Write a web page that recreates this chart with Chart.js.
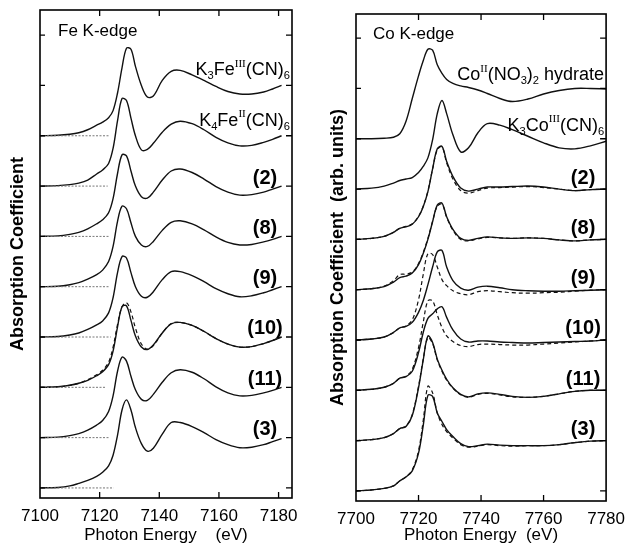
<!DOCTYPE html>
<html>
<head>
<meta charset="utf-8">
<script src="https://cdn.jsdelivr.net/npm/chart.js@4.4.1/dist/chart.umd.min.js"></script>
<style>
  body { margin: 0; background: #fff; }
  #wrap { position: relative; width: 633px; height: 546px; }
  canvas { position: absolute; top: 0; }
  #feChart { left: 0; }
  #coChart { left: 310px; }
</style>
</head>
<body>
<div id="wrap">
  <canvas id="feChart" width="310" height="546"></canvas>
  <canvas id="coChart" width="323" height="546"></canvas>
</div>
<script>
// ---- Fe K-edge data (normalised, each curve raised by its level) ----
const energyFe = [7100, 7106, 7110, 7113, 7116, 7119, 7121, 7123, 7124.5, 7126, 7127.5, 7129, 7130.5, 7132,
  7134, 7136, 7138, 7141, 7144, 7147, 7151, 7155, 7159, 7163, 7167, 7171, 7175, 7178, 7181];
const feK3 = [0, 0.01, 0.03, 0.06, 0.12, 0.21, 0.27, 0.36, 0.5, 0.85, 1.35, 1.74, 1.72, 1.38, 1.0, 0.77, 0.79,
  1.1, 1.28, 1.3, 1.21, 1.1, 0.98, 0.88, 0.83, 0.83, 0.87, 0.93, 1.0];
const feK4 = [0, 0.01, 0.03, 0.06, 0.12, 0.24, 0.32, 0.45, 0.75, 1.3, 1.74, 1.7, 1.35, 1.0, 0.72, 0.73, 0.85,
  1.07, 1.23, 1.29, 1.24, 1.12, 0.97, 0.86, 0.8, 0.81, 0.87, 0.93, 1.0];
const fe2 = [0, 0.01, 0.04, 0.08, 0.15, 0.25, 0.33, 0.47, 0.75, 1.25, 1.62, 1.6, 1.3, 1.0, 0.79, 0.76, 0.88,
  1.12, 1.3, 1.34, 1.27, 1.14, 0.99, 0.88, 0.82, 0.83, 0.88, 0.94, 1.0];
const fe8 = [0, 0.01, 0.04, 0.08, 0.15, 0.24, 0.33, 0.5, 0.8, 1.3, 1.6, 1.55, 1.27, 1.0, 0.83, 0.8, 0.9,
  1.12, 1.28, 1.31, 1.25, 1.13, 0.99, 0.88, 0.83, 0.84, 0.89, 0.94, 1.0];
const fe9 = [0, 0.01, 0.04, 0.08, 0.15, 0.24, 0.32, 0.48, 0.78, 1.28, 1.6, 1.57, 1.28, 1.0, 0.81, 0.79, 0.9,
  1.14, 1.3, 1.3, 1.22, 1.1, 0.96, 0.86, 0.8, 0.82, 0.88, 0.94, 1.0];
const fe10 = [0, 0.01, 0.04, 0.08, 0.14, 0.23, 0.31, 0.45, 0.72, 1.2, 1.6, 1.62, 1.33, 1.02, 0.8, 0.75, 0.84,
  1.08, 1.26, 1.29, 1.23, 1.11, 0.97, 0.86, 0.8, 0.81, 0.87, 0.93, 1.0];
const fe10fit = [0, 0.01, 0.04, 0.08, 0.15, 0.25, 0.34, 0.5, 0.8, 1.25, 1.6, 1.68, 1.5, 1.18, 0.86, 0.76, 0.83,
  1.08, 1.27, 1.29, 1.23, 1.11, 0.97, 0.86, 0.8, 0.81, 0.87, 0.93, 1.0];
const fe11 = [0, 0.01, 0.04, 0.08, 0.15, 0.25, 0.34, 0.52, 0.83, 1.32, 1.6, 1.52, 1.22, 0.95, 0.76, 0.74, 0.86,
  1.1, 1.29, 1.35, 1.3, 1.17, 1.01, 0.89, 0.83, 0.84, 0.89, 0.94, 1.0];
const fe3 = [0, 0.01, 0.04, 0.09, 0.15, 0.23, 0.31, 0.44, 0.65, 1.05, 1.55, 1.75, 1.55, 1.2, 0.88, 0.73, 0.79,
  1.07, 1.3, 1.3, 1.22, 1.1, 0.96, 0.86, 0.8, 0.81, 0.86, 0.92, 0.98];
const feCurves = [feK3, feK4, fe2, fe8, fe9, fe10, fe11, fe3];
const feLevels = [7, 6, 5, 4, 3, 2, 1, 0];
const feBaseEnd = [7123, 7122.7, 7123, 7123, 7123.7, 7122, 7123, 7124.7];

// ---- Co K-edge data ----
const energyCo = [7700, 7705, 7709, 7712, 7714, 7716, 7718, 7720, 7721.5, 7723, 7724.5, 7726, 7727.5, 7729,
  7731, 7733.5, 7736, 7739, 7742, 7746, 7750, 7755, 7760, 7765, 7770, 7775, 7780];
const coNitrate = [0, 0, 0.01, 0.03, 0.1, 0.35, 0.8, 1.25, 1.55, 1.78, 1.76, 1.47, 1.3, 1.18, 1.1, 1.05, 1.02,
  0.97, 0.9, 0.8, 0.74, 0.79, 0.89, 0.96, 1.0, 1.0, 0.99];
const coK3 = [0, 0.02, 0.06, 0.12, 0.17, 0.2, 0.23, 0.33, 0.45, 0.62, 0.98, 1.5, 1.76, 1.5, 1.08, 0.74, 0.82,
  1.12, 1.3, 1.27, 1.18, 1.05, 0.92, 0.82, 0.8, 0.86, 0.95];
const co2 = [0, 0.02, 0.06, 0.14, 0.22, 0.25, 0.3, 0.45, 0.65, 0.95, 1.4, 1.8, 1.85, 1.55, 1.25, 1.02, 0.96,
  1.0, 1.04, 1.04, 1.05, 1.06, 1.04, 1.0, 0.97, 0.99, 1.0];
const co2fit = [0, 0.02, 0.06, 0.14, 0.22, 0.26, 0.31, 0.46, 0.66, 0.96, 1.4, 1.78, 1.84, 1.52, 1.2, 0.97, 0.92,
  0.97, 1.02, 1.03, 1.04, 1.05, 1.03, 1.0, 0.97, 0.99, 1.0];
const co8 = [0, 0.02, 0.06, 0.15, 0.24, 0.27, 0.33, 0.5, 0.72, 1.0, 1.35, 1.68, 1.72, 1.45, 1.2, 1.02, 0.98,
  1.02, 1.05, 1.03, 1.02, 1.03, 1.02, 0.99, 0.97, 0.99, 1.0];
const co8fit = [0, 0.02, 0.07, 0.18, 0.3, 0.31, 0.35, 0.52, 0.74, 1.02, 1.36, 1.66, 1.7, 1.44, 1.18, 1.0, 0.97,
  1.01, 1.04, 1.03, 1.02, 1.03, 1.02, 0.99, 0.97, 0.99, 1.0];
const co9 = [0, 0.02, 0.06, 0.15, 0.24, 0.27, 0.35, 0.55, 0.78, 1.1, 1.45, 1.75, 1.78, 1.45, 1.18, 1.03, 0.99,
  1.05, 1.07, 1.04, 1.0, 0.98, 0.97, 0.97, 0.98, 0.99, 1.0];
const co9fit = [0, 0.02, 0.06, 0.15, 0.24, 0.28, 0.4, 0.8, 1.3, 1.72, 1.7, 1.45, 1.2, 1.08, 0.98, 0.92, 0.9,
  0.96, 0.98, 0.96, 0.94, 0.93, 0.94, 0.95, 0.97, 0.99, 1.0];
const co10 = [0, 0.02, 0.06, 0.14, 0.24, 0.27, 0.38, 0.75, 1.15, 1.43, 1.52, 1.62, 1.66, 1.45, 1.2, 1.02, 0.96,
  0.98, 0.98, 0.96, 0.95, 0.94, 0.95, 0.96, 0.97, 0.98, 1.0];
const co10fit = [0, 0.02, 0.06, 0.14, 0.24, 0.28, 0.42, 0.85, 1.35, 1.78, 1.78, 1.5, 1.25, 1.08, 0.97, 0.89, 0.87,
  0.91, 0.92, 0.91, 0.9, 0.9, 0.92, 0.94, 0.96, 0.98, 1.0];
const co11 = [0, 0.02, 0.06, 0.14, 0.24, 0.28, 0.5, 1.05, 1.6, 2.08, 1.95, 1.62, 1.4, 1.22, 1.05, 0.92, 0.87,
  0.93, 0.95, 0.92, 0.88, 0.86, 0.88, 0.93, 0.98, 1.0, 1.0];
const co11fit = [0, 0.02, 0.06, 0.14, 0.24, 0.29, 0.52, 1.08, 1.62, 2.05, 1.93, 1.6, 1.38, 1.2, 1.04, 0.91, 0.86,
  0.92, 0.94, 0.91, 0.87, 0.86, 0.88, 0.93, 0.98, 1.0, 1.0];
const co3 = [0, 0.02, 0.05, 0.1, 0.2, 0.28, 0.4, 0.75, 1.3, 1.9, 1.88, 1.55, 1.38, 1.22, 1.08, 0.94, 0.88,
  0.9, 0.93, 0.91, 0.9, 0.9, 0.9, 0.92, 0.96, 0.99, 1.0];
const co3fit = [0, 0.02, 0.05, 0.1, 0.2, 0.28, 0.42, 0.8, 1.4, 2.08, 1.95, 1.55, 1.32, 1.18, 1.05, 0.92, 0.87,
  0.89, 0.92, 0.9, 0.89, 0.9, 0.9, 0.92, 0.96, 0.99, 1.0];
const coCurves = [coNitrate, coK3, co2, co8, co9, co10, co11, co3];
const coFits = [null, null, co2fit, co8fit, co9fit, co10fit, co11fit, co3fit];
const coLevels = [7, 6, 5, 4, 3, 2, 1, 0];

// tick values
const feXTicks = [7120, 7140, 7160, 7180];
const coXTicks = [7720, 7740, 7760];
const yTicks = [0, 1, 2, 3, 4, 5, 6, 7, 8, 9];

// curve labels: [text, "sub"/"sup"] pieces
const feLabels = [
  [["K"], ["3", "sub"], ["Fe"], ["III", "sup"], ["(CN)"], ["6", "sub"]],
  [["K"], ["4", "sub"], ["Fe"], ["II", "sup"], ["(CN)"], ["6", "sub"]],
  [["(2)"]], [["(8)"]], [["(9)"]], [["(10)"]], [["(11)"]], [["(3)"]],
];
const coLabels = [
  [["Co"], ["II", "sup"], ["(NO"], ["3", "sub"], [")"], ["2", "sub"], [" hydrate"]],
  [["K"], ["3", "sub"], ["Co"], ["III", "sup"], ["(CN)"], ["6", "sub"]],
  [["(2)"]], [["(8)"]], [["(9)"]], [["(10)"]], [["(11)"]], [["(3)"]],
];

const FONT = "'Liberation Sans', Arial, Helvetica, sans-serif";
Chart.defaults.font.family = FONT;
Chart.defaults.color = "#000";

function curve(energy, values, level, dashed) {
  return {
    data: energy.map((e, i) => ({ x: e, y: values[i] + level })),
    borderColor: "#111",
    borderWidth: dashed ? 1.2 : 1.4,
    borderDash: dashed ? [4, 3] : [],
    pointRadius: 0,
    tension: 0.35,
    fill: false,
  };
}

function baseMark(x0, x1, level) {
  return {
    data: [{ x: x0, y: level }, { x: x1, y: level }],
    borderColor: "#777",
    borderWidth: 1,
    borderDash: [2, 1.5],
    pointRadius: 0,
    tension: 0,
  };
}

function drawRich(ctx, pieces, x, y, align, size, bold) {
  const fontOf = (p) => {
    if (p[1] === "sup") return (size * 0.62) + "px 'Liberation Serif', serif";
    if (p[1] === "sub") return (size * 0.62) + "px " + FONT;
    return (bold ? "bold " : "") + size + "px " + FONT;
  };
  const widths = pieces.map((p) => { ctx.font = fontOf(p); return ctx.measureText(p[0]).width; });
  const total = widths.reduce((a, b) => a + b, 0);
  let cx = align === "right" ? x - total : align === "center" ? x - total / 2 : x;
  pieces.forEach((p, k) => {
    ctx.font = fontOf(p);
    const dy = p[1] === "sub" ? size * 0.32 : p[1] === "sup" ? -size * 0.36 : 0;
    ctx.fillText(p[0], cx, y + dy);
    cx += widths[k];
  });
}

const panelText = {
  id: "panelText",
  afterDatasetsDraw(chart, args, o) {
    const { ctx, chartArea: a, scales: { x, y } } = chart;
    ctx.save();
    ctx.strokeStyle = "#000";
    ctx.lineWidth = 1.6;
    ctx.strokeRect(a.left, a.top, a.right - a.left, a.bottom - a.top);
    ctx.lineWidth = 1.3;
    ctx.beginPath();
    o.xTicks.forEach((v) => {
      const px = x.getPixelForValue(v);
      ctx.moveTo(px, a.bottom); ctx.lineTo(px, a.bottom - 6);
      ctx.moveTo(px, a.top); ctx.lineTo(px, a.top + 6);
    });
    o.yTicks.forEach((v) => {
      const py = y.getPixelForValue(v);
      ctx.moveTo(a.left, py); ctx.lineTo(a.left + 5, py);
      ctx.moveTo(a.right, py); ctx.lineTo(a.right - 6, py);
    });
    ctx.stroke();
    ctx.fillStyle = "#000";
    ctx.textBaseline = "middle";
    drawRich(ctx, [[o.edge]], a.left + o.edgeInset, y.getPixelForValue(9.08), "left", 17, false);
    o.labels.forEach((pieces, i) => {
      const named = i < 2;
      const py = y.getPixelForValue(o.levels[i] + (named ? o.nameLift : o.numLift));
      if (named) drawRich(ctx, pieces, a.right - 2, py, "right", 18, false);
      else drawRich(ctx, pieces, a.right - o.numInset, py, "center", 20, true);
    });
    ctx.restore();
  },
};

function options(xMin, xMax, xTitle, yTitle, yMax, yWidth, titlePad, xHeight, pad, text) {
  return {
    responsive: false,
    animation: false,
    layout: { padding: pad },
    plugins: { legend: { display: false }, tooltip: { enabled: false }, panelText: text },
    scales: {
      x: {
        type: "linear", min: xMin, max: xMax,
        grid: { display: false, drawTicks: false },
        border: { display: false },
        ticks: { stepSize: 20, includeBounds: false, padding: 8, font: { size: 17 }, color: "#000",
          callback: (v) => String(v) },
        title: { display: true, text: xTitle, font: { size: 17 }, padding: { top: 0, bottom: 0 } },
        afterFit: (s) => { s.height = xHeight; },
      },
      y: {
        min: -0.2, max: yMax,
        grid: { display: false, drawTicks: false },
        border: { display: false },
        ticks: { display: false },
        title: { display: true, text: yTitle, font: { size: 18, weight: "bold" }, padding: { top: titlePad, bottom: 0 } },
        afterFit: (s) => { s.width = yWidth; },
      },
    },
  };
}

// Fe panel
const feSets = [];
feCurves.forEach((c, i) => {
  feSets.push(baseMark(7100, feBaseEnd[i], feLevels[i]));
  feSets.push(curve(energyFe, c, feLevels[i], false));
});
feSets.push(curve(energyFe, fe10fit, 2, true));

new Chart(document.querySelector("#feChart"), {
  type: "line",
  data: { datasets: feSets },
  options: options(7100, 7184.5, "Photon Energy    (eV)", "Absorption Coefficient", 9.5, 40, 7, 48,
    { left: 0, right: 18, top: 10, bottom: 0 },
    { xTicks: feXTicks, yTicks: yTicks, labels: feLabels, levels: feLevels, nameLift: 1.3, numLift: 1.16,
      numInset: 27, edge: "Fe K-edge", edgeInset: 18 }),
  plugins: [panelText],
});

// Co panel
const coSets = [];
coCurves.forEach((c, i) => {
  coSets.push(curve(energyCo, c, coLevels[i], false));
  if (coFits[i]) coSets.push(curve(energyCo, coFits[i], coLevels[i], true));
});

new Chart(document.querySelector("#coChart"), {
  type: "line",
  data: { datasets: coSets },
  options: options(7700, 7780, "Photon Energy  (eV)", "Absorption Coefficient  (arb. units)", 9.48, 46, 17, 45,
    { left: 0, right: 20, top: 14, bottom: 0 },
    { xTicks: coXTicks, yTicks: yTicks, labels: coLabels, levels: coLevels, nameLift: 1.26, numLift: 1.22,
      numInset: 23, edge: "Co K-edge", edgeInset: 17 }),
  plugins: [panelText],
});
</script>
</body>
</html>
